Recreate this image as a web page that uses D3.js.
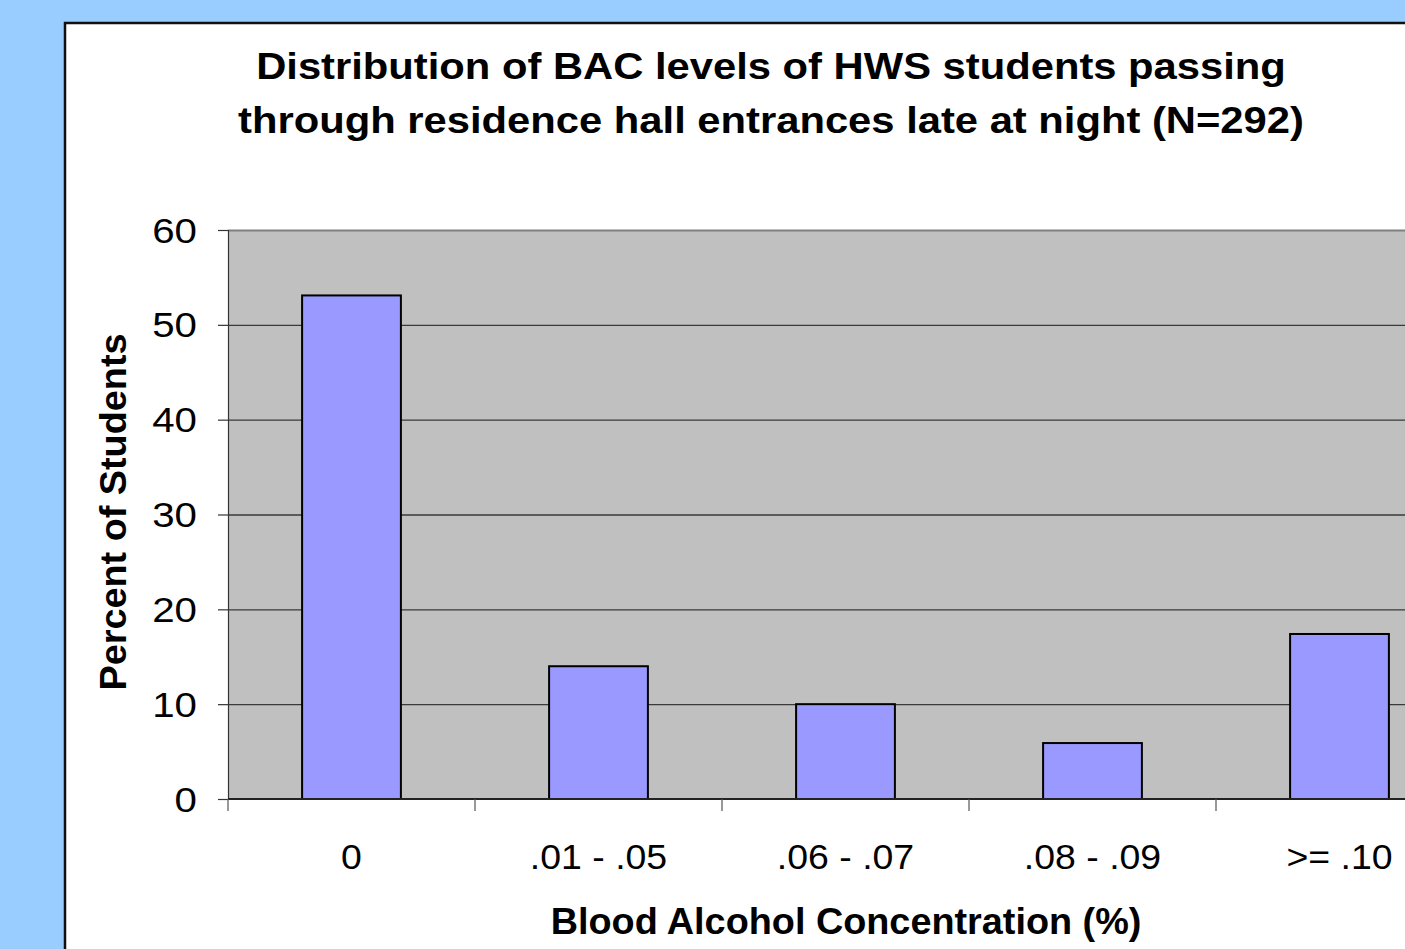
<!DOCTYPE html>
<html>
<head>
<meta charset="utf-8">
<script src="https://cdn.jsdelivr.net/npm/d3@7"></script>
<style>
  body { margin: 0; background: #99ccff; overflow: hidden; }
  text { font-family: Arial, "Liberation Sans", sans-serif; }
</style>
</head>
<body>
<div id="chart"></div>
<script>
var categories = ["0", ".01 - .05", ".06 - .07", ".08 - .09", ">= .10"];
var percents = [53.1, 14.0, 10.0, 5.9, 17.4];
var yTicks = [0, 10, 20, 30, 40, 50, 60];
var titleLines = ["Distribution of BAC levels of HWS students passing",
                  "through residence hall entrances late at night (N=292)"];

var width = 1405,
    height = 949;
var plotLeft = 228, plotTop = 230, plotBottom = 799, plotRight = 1463;

var svg = d3.select("#chart").append("svg")
  .attr("width", width)
  .attr("height", height);

// text that is a bit wider than the font would draw it (the source picture is stretched)
function stretchedText(x, y, str, size, sx, anchor, bold) {
  return svg.append("text")
    .attr("transform", "translate(" + x + "," + y + ") scale(" + sx + ",1)")
    .attr("text-anchor", anchor)
    .attr("font-size", size)
    .attr("font-weight", bold ? "bold" : "normal")
    .attr("fill", "#000")
    .text(str);
}

// background and white frame
svg.append("rect").attr("width", width).attr("height", height).attr("fill", "#99ccff");
svg.append("rect")
  .attr("x", 65).attr("y", 23)
  .attr("width", 1400).attr("height", 1000)
  .attr("fill", "#fff")
  .attr("stroke", "#111").attr("stroke-width", 2.5);

var x = d3.scaleBand()
  .domain(categories)
  .range([plotLeft, plotRight])
  .paddingInner(0.6).paddingOuter(0.3);

var y = d3.scaleLinear()
  .domain([0, 60])
  .range([plotBottom, plotTop]);

// plot area
svg.append("rect")
  .attr("x", plotLeft).attr("y", plotTop)
  .attr("width", plotRight - plotLeft).attr("height", plotBottom - plotTop)
  .attr("fill", "#c0c0c0");

// gridlines
svg.selectAll(".grid").data(yTicks.filter(function(d) { return d > 0; }))
  .enter().append("line")
  .attr("class", "grid")
  .attr("x1", plotLeft).attr("x2", plotRight)
  .attr("y1", function(d) { return y(d) + 0.5; })
  .attr("y2", function(d) { return y(d) + 0.5; })
  .attr("stroke", function(d) { return d == 60 ? "#808080" : "#3a3a3a"; })
  .attr("stroke-width", function(d) { return d == 60 ? 2 : 1.3; });

// bars
svg.selectAll(".bar").data(percents)
  .enter().append("rect")
  .attr("class", "bar")
  .attr("x", function(d, i) { return x(categories[i]); })
  .attr("y", function(d) { return y(d); })
  .attr("width", x.bandwidth())
  .attr("height", function(d) { return plotBottom - y(d); })
  .attr("fill", "#9999ff")
  .attr("stroke", "#000")
  .attr("stroke-width", 2);

// y axis (lines from d3, labels drawn stretched)
var yAxis = svg.append("g")
  .attr("transform", "translate(" + plotLeft + ",0)")
  .call(d3.axisLeft(y).tickValues(yTicks).tickSize(10).tickFormat(""));
yAxis.select(".domain").attr("stroke", "#333").attr("stroke-width", 1.2);
yAxis.selectAll(".tick line").attr("stroke", "#333").attr("stroke-width", 1.2);
yTicks.forEach(function(t) {
  stretchedText(197, y(t) + 12.5, String(t), 35, 1.15, "end", false);
});

// x axis with ticks at band boundaries
var xAxis = svg.append("g")
  .attr("transform", "translate(0," + plotBottom + ")");
xAxis.append("line")
  .attr("x1", plotLeft).attr("x2", plotRight)
  .attr("stroke", "#222").attr("stroke-width", 2);
var step = x.step();
xAxis.selectAll(".xtick").data(categories)
  .enter().append("line")
  .attr("class", "xtick")
  .attr("x1", function(d, i) { return plotLeft + i * step; })
  .attr("x2", function(d, i) { return plotLeft + i * step; })
  .attr("y1", 0).attr("y2", 12)
  .attr("stroke", "#555").attr("stroke-width", 1.2);
categories.forEach(function(c) {
  stretchedText(x(c) + x.bandwidth() / 2, plotBottom + 70, c, 35, 1.07, "middle", false);
});

// axis titles
stretchedText(846, 934, "Blood Alcohol Concentration (%)", 36, 1.05, "middle", true);
// rotated title: stretch along its length means scaling y before rotating
svg.append("text")
  .attr("transform", "translate(126,512) scale(1,1.05) rotate(-90)")
  .attr("text-anchor", "middle")
  .attr("font-size", 36).attr("font-weight", "bold")
  .text("Percent of Students");

// title
titleLines.forEach(function(line, i) {
  stretchedText(771, 79 + i * 54, line, 36, 1.16, "middle", true);
});
</script>
</body>
</html>
